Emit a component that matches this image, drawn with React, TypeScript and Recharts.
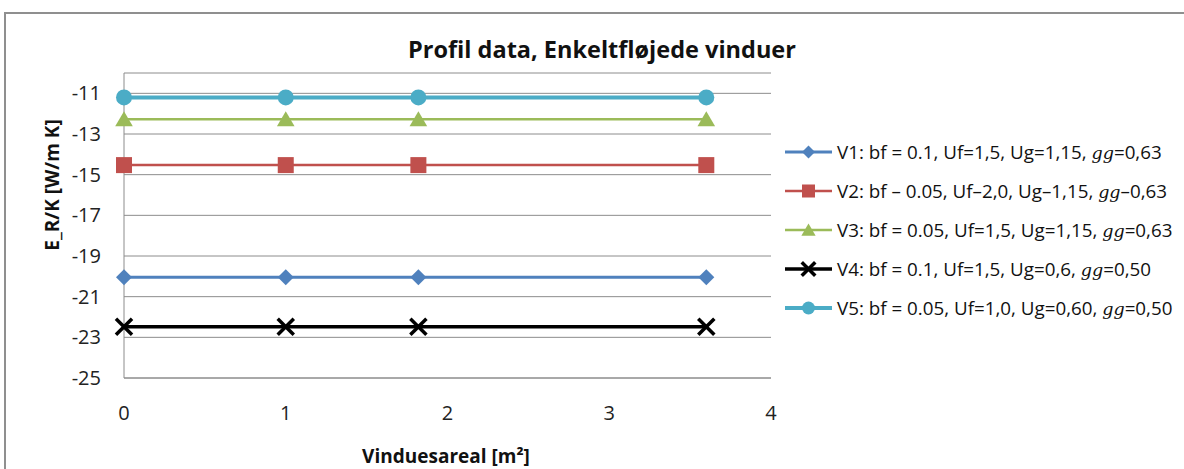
import React from 'react';
import { LineChart, Line, XAxis, YAxis, CartesianGrid } from 'recharts';

const xValues = [0, 1, 1.82, 3.6];
const v1 = [-20.05, -20.05, -20.05, -20.05];
const v2 = [-14.53, -14.53, -14.53, -14.53];
const v3 = [-12.27, -12.27, -12.27, -12.27];
const v4 = [-22.48, -22.48, -22.48, -22.48];
const v5 = [-11.2, -11.2, -11.2, -11.2];
const xTicks = [0, 1, 2, 3, 4];
const yTicks = [-25, -23, -21, -19, -17, -15, -13, -11];

const seriesKeys = ['v1', 'v2', 'v3', 'v4', 'v5'];
const seriesLabels = [
  ['V1: bf = 0.1, Uf=1,5, Ug=1,15, ', 'gg', '=0,63'],
  ['V2: bf \u2013 0.05, Uf\u20132,0, Ug\u20131,15, ', 'gg', '\u20130,63'],
  ['V3: bf = 0.05, Uf=1,5, Ug=1,15, ', 'gg', '=0,63'],
  ['V4: bf = 0.1, Uf=1,5, Ug=0,6, ', 'gg', '=0,50'],
  ['V5: bf = 0.05, Uf=1,0, Ug=0,60, ', 'gg', '=0,50'],
];
const seriesColors = ['#4F81BD', '#C0504D', '#9BBB59', '#000000', '#4BACC6'];
const seriesShapes = ['diamond', 'square', 'triangle', 'x', 'circle'];
const seriesWidths = [3, 2.5, 2.5, 3.5, 4];

const data = xValues.map((x, i) => ({
  x,
  v1: v1[i],
  v2: v2[i],
  v3: v3[i],
  v4: v4[i],
  v5: v5[i],
}));

const FONT = '"Open Sans", Lato, sans-serif';

function Marker({ shape, cx, cy, color, s }: { shape: string; cx: number; cy: number; color: string; s: number }) {
  const h = s / 2;
  if (shape === 'diamond') {
    return <polygon points={`${cx},${cy - h} ${cx + h},${cy} ${cx},${cy + h} ${cx - h},${cy}`} fill={color} />;
  }
  if (shape === 'square') {
    return <rect x={cx - h} y={cy - h} width={s} height={s} fill={color} />;
  }
  if (shape === 'triangle') {
    return <polygon points={`${cx},${cy - h} ${cx + h * 1.1},${cy + h * 0.9} ${cx - h * 1.1},${cy + h * 0.9}`} fill={color} />;
  }
  if (shape === 'x') {
    const k = h * 0.85;
    return (
      <g stroke={color} strokeWidth={3.5} strokeLinecap="square">
        <line x1={cx - k} y1={cy - k} x2={cx + k} y2={cy + k} />
        <line x1={cx - k} y1={cy + k} x2={cx + k} y2={cy - k} />
      </g>
    );
  }
  return <circle cx={cx} cy={cy} r={h} fill={color} />;
}

function makeDot(i: number) {
  return (props: any) => (
    <Marker key={`${i}-${props.index}`} shape={seriesShapes[i]} cx={props.cx} cy={props.cy} color={seriesColors[i]} s={16} />
  );
}

function LegendBox() {
  return (
    <div style={{ position: 'absolute', left: 783, top: 132, fontFamily: FONT, fontSize: 18.8, color: '#111' }}>
      {seriesKeys.map((k, i) => (
        <div key={k} style={{ display: 'flex', alignItems: 'center', height: 39.1 }}>
          <svg width={50} height={20} style={{ flex: 'none' }}>
            <line x1={2} y1={10} x2={49} y2={10} stroke={seriesColors[i]} strokeWidth={seriesWidths[i]} />
            <Marker shape={seriesShapes[i]} cx={25.5} cy={10} color={seriesColors[i]} s={13} />
          </svg>
          <span style={{ whiteSpace: 'nowrap', marginLeft: 4 }}>
            {seriesLabels[i][0]}
            <i style={{ fontFamily: '"DejaVu Serif", serif', fontSize: 17.5 }}>{seriesLabels[i][1]}</i>
            {seriesLabels[i][2]}
          </span>
        </div>
      ))}
    </div>
  );
}

export default function App() {
  return (
    <div style={{ position: 'absolute', left: 0, top: 0, width: 1184, height: 469, overflow: 'hidden', background: '#fff' }}>
      <div style={{ position: 'absolute', left: 4, top: 12, width: 1300, height: 600, border: '2px solid #8f8f8f' }} />
      <div style={{ position: 'absolute', left: 0, top: 0 }}>
        <LineChart width={1184} height={469} data={data} margin={{ top: 73, right: 413, bottom: 41, left: 64 }}>
          <CartesianGrid vertical={false} stroke="#8c8c8c" strokeOpacity={1} />
          <XAxis
            dataKey="x"
            type="number"
            domain={[0, 4]}
            ticks={xTicks}
            height={50}
            axisLine={{ stroke: '#8c8c8c' }}
            tickLine={false}
            tickSize={0}
            tickMargin={28}
            tick={{ fill: '#222', fontSize: 20, fontFamily: FONT }}
          />
          <YAxis
            type="number"
            domain={[-25, -10]}
            ticks={yTicks}
            width={60}
            axisLine={{ stroke: '#8c8c8c' }}
            tickLine={false}
            tickSize={0}
            tickMargin={23}
            tick={{ fill: '#222', fontSize: 20, fontFamily: FONT }}
            allowDataOverflow
          />
          {seriesKeys.map((k, i) => (
            <Line
              key={k}
              dataKey={k}
              name={k}
              stroke={seriesColors[i]}
              strokeWidth={seriesWidths[i]}
              dot={makeDot(i)}
              activeDot={false}
              isAnimationActive={false}
            />
          ))}
          <text x={602} y={49} textAnchor="middle" dominantBaseline="central" fontFamily={FONT} fontWeight="bold" fontSize={23.5} fill="#111">
            Profil data, Enkeltfløjede vinduer
          </text>
          <text x={446} y={456} textAnchor="middle" dominantBaseline="central" fontFamily={FONT} fontWeight="bold" fontSize={19} fill="#111">
            Vinduesareal [m²]
          </text>
          <text
            x={52}
            y={185}
            textAnchor="middle"
            dominantBaseline="central"
            transform="rotate(-90 52 185)"
            fontFamily={FONT}
            fontWeight="bold"
            fontSize={19}
            fill="#111"
          >
            E_R/K [W/m K]
          </text>
        </LineChart>
      </div>
      <LegendBox />
    </div>
  );
}
